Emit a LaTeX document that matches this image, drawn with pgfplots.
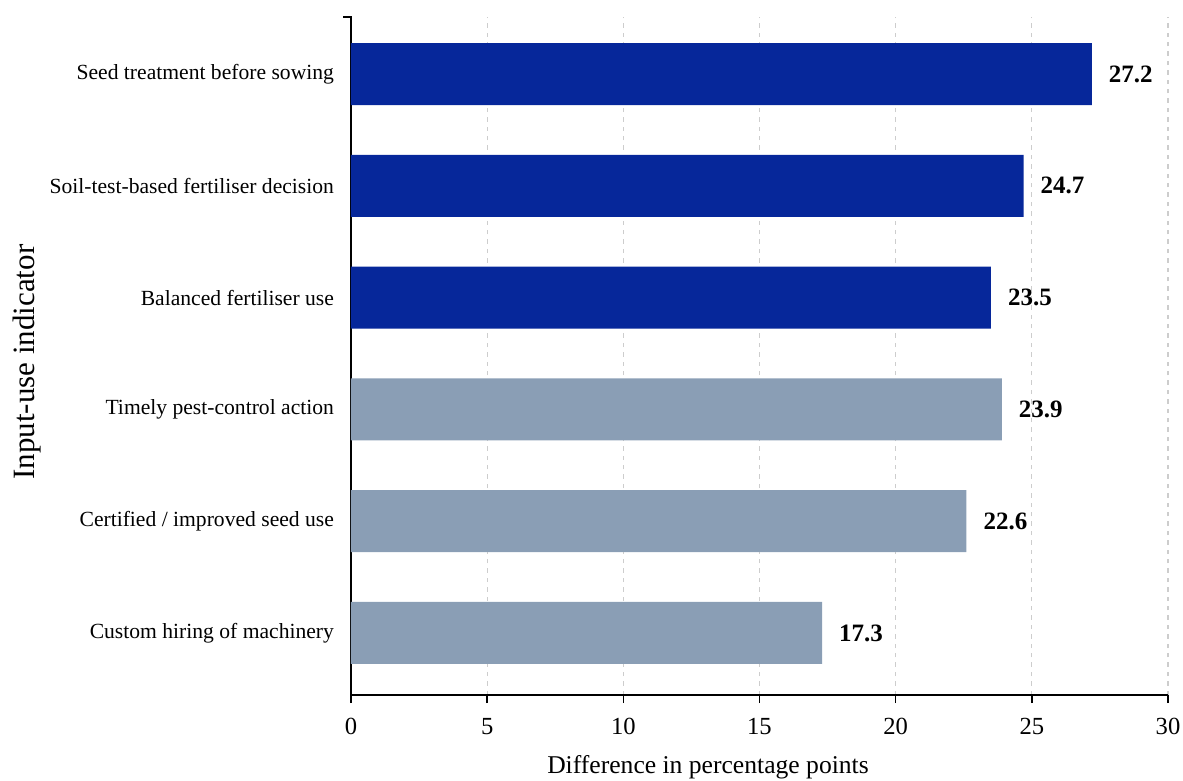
\documentclass[border=0pt]{standalone}
\usepackage{pgfplots}
\pgfplotsset{compat=1.18}
\usepackage{fontspec}
\setmainfont{Liberation Serif}
\usetikzlibrary{calc}

\definecolor{darkbar}{RGB}{6,39,154}
\definecolor{lightbar}{RGB}{138,158,181}
\definecolor{gridgray}{RGB}{205,205,205}

\begin{document}
\begin{tikzpicture}
\begin{axis}[
  scale only axis,
  width=408.5pt, height=339pt,
  xbar, bar width=31pt, bar shift=0pt,
  xmin=0, xmax=30,
  ymin=-0.555, ymax=5.51,
  axis x line=bottom, axis y line=left,
  axis line style={-, line width=1pt, black},
  xtick={0,5,...,30},
  xmajorgrids,
  major grid style={gridgray, line width=0.6pt, dash pattern=on 2.2pt off 2.5pt},
  tick align=outside,
  major tick length=4pt,
  xtick style={black, line width=0.8pt},
  ytick={0,1,2,3,4,5},
  yticklabels={Custom hiring of machinery, Certified / improved seed use, Timely pest-control action, Balanced fertiliser use, Soil-test-based fertiliser decision, Seed treatment before sowing},
  ytick style={draw=none},
  /pgf/number format/assume math mode=true,
  xticklabel style={font=\fontsize{12.3}{14}\selectfont, anchor=base, yshift=-15.5pt},
  yticklabel style={font=\fontsize{10.8}{13}\selectfont, xshift=-1pt},
  xlabel={Difference in percentage points},
  xlabel style={font=\fontsize{12.8}{15}\selectfont, at={(axis description cs:0.437,0)}, anchor=base, yshift=-39pt},
  ylabel={Input-use indicator},
  ylabel style={font=\fontsize{15.5}{18}\selectfont, at={(axis description cs:-0.3966,0.491)}, anchor=center},
  nodes near coords={\bfseries\pgfmathprintnumber[fixed,fixed zerofill,precision=1,assume math mode=true]{\pgfplotspointmeta}},
  nodes near coords style={font=\fontsize{12.5}{15}\selectfont, anchor=west, xshift=5pt},
  point meta=x,
  clip=false,
]
% input-use indicators with the larger gaps
\addplot[fill=darkbar, draw=none] coordinates {(27.2,5) (24.7,4) (23.5,3)};
% remaining indicators
\addplot[fill=lightbar, draw=none] coordinates {(23.9,2) (22.6,1) (17.3,0)};
\coordinate (bl) at (rel axis cs:0,0);
\coordinate (tr) at (rel axis cs:1,1);
\coordinate (tl) at (rel axis cs:0,1);
\end{axis}
% small cap at the top of the y axis line
\draw[line width=0.8pt] ($(tl)+(0.4pt,0)$) -- ($(tl)+(-4pt,0)$);
\pgfresetboundingbox
\path[use as bounding box] ($(bl)+(-175.5pt,-43pt)$) rectangle ($(tr)+(7.5pt,8.5pt)$);
\end{tikzpicture}
\end{document}
